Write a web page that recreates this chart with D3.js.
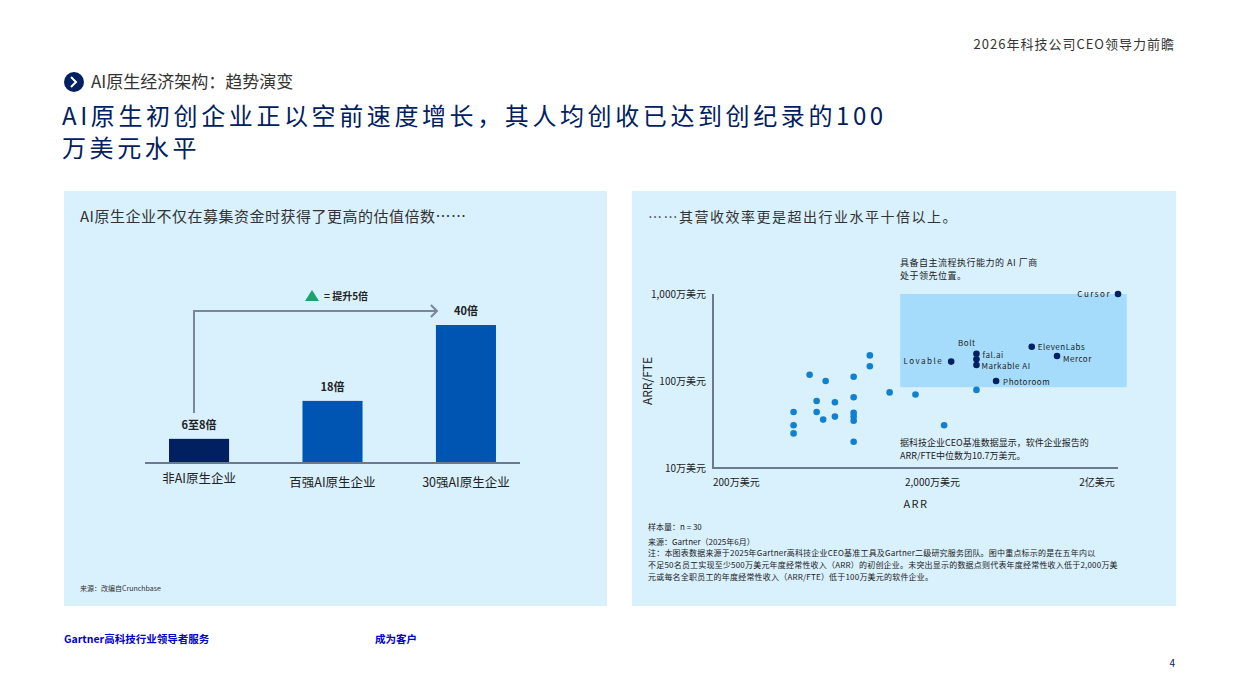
<!DOCTYPE html>
<html><head><meta charset="utf-8">
<script src="https://cdn.jsdelivr.net/npm/d3@7/dist/d3.min.js"></script>
<style>body{margin:0;background:#fff}svg{display:block;font-family:"Noto Sans CJK SC","Noto Sans",sans-serif}</style>
</head><body><svg id="c" width="1240" height="697"></svg>
<script>
const barCats=["非AI原生企业","百强AI原生企业","30强AI原生企业"];
const barVals=[7,18,40];
const barLabels=["6至8倍","18倍","40倍"];
const barColors=["#002060","#0055b3","#0055b3"];
const otherArr=[5.0e6,5.0e6,5.0e6,6.0e6,6.5e6,6.5e6,7.0e6,7.2e6,8.0e6,8.0e6,9.9e6,9.9e6,9.9e6,9.9e6,9.9e6,9.9e6,11.9e6,11.9e6,14.9e6,20e6,27.7e6,40e6];
const otherFte=[0.44e6,0.31e6,0.25e6,1.18e6,0.59e6,0.44e6,0.36e6,1.0e6,0.57e6,0.39e6,1.12e6,0.65e6,0.43e6,0.39e6,0.35e6,0.20e6,1.97e6,1.48e6,0.74e6,0.70e6,0.31e6,0.79e6];
const leadNames=["Lovable","Bolt","fal.ai","Markable AI","ElevenLabs","Mercor","Photoroom","Cursor"];
const leadArr=[30e6,40e6,40e6,40e6,75e6,100e6,50e6,200e6];
const leadFte=[1.67e6,2.06e6,1.78e6,1.53e6,2.48e6,1.94e6,1.0e6,10e6];
const xTicks=[2e6,2e7,2e8], xTickLabels=["200万美元","2,000万美元","2亿美元"];
const yTicks=[1e5,1e6,1e7], yTickLabels=["10万美元","100万美元","1,000万美元"];

const svg=d3.select("#c");
const T=(x,y,t,o={})=>{const e=svg.append("text").attr("x",x).attr("y",y).text(t)
 .attr("font-size",o.s||11).attr("fill",o.c||"#222").attr("text-anchor",o.a||"start")
 .attr("font-weight",o.w||"normal");if(o.ls)e.attr("letter-spacing",o.ls);return e;};
T(1175,49,"2026年科技公司CEO领导力前瞻",{s:13,a:"end",c:"#333",ls:1});
svg.append("circle").attr("cx",74).attr("cy",82).attr("r",10).attr("fill","#002060");
svg.append("path").attr("d","M71,77 L76,82 L71,87").attr("stroke","#fff").attr("stroke-width",2).attr("fill","none");
T(91,88,"AI原生经济架构：趋势演变",{s:17,c:"#333"});
T(62,125,"AI原生初创企业正以空前速度增长，其人均创收已达到创纪录的100",{s:24,c:"#002060",ls:3.6});
T(62,157,"万美元水平",{s:24,c:"#002060",ls:3.6});
svg.append("rect").attr("x",64).attr("y",191).attr("width",543).attr("height",415).attr("fill","#d9f0fd");
svg.append("rect").attr("x",632).attr("y",191).attr("width",544).attr("height",415).attr("fill","#d9f0fd");
T(80,222,"AI原生企业不仅在募集资金时获得了更高的估值倍数……",{s:15,c:"#333",ls:0.5});
T(648,222,"……其营收效率更是超出行业水平十倍以上。",{s:14,c:"#333",ls:1.5});

// bars
const xb=d3.scaleBand().domain(barCats).range([145,520]).paddingInner(0.55).paddingOuter(0.18);
const yb=d3.scaleLinear().domain([0,40]).range([463,325]);
svg.selectAll(".b").data(barCats).join("rect").attr("x",d=>xb(d)).attr("width",xb.bandwidth())
 .attr("y",(d,i)=>yb(barVals[i])).attr("height",(d,i)=>463-yb(barVals[i])).attr("fill",(d,i)=>barColors[i]);
svg.append("line").attr("x1",145).attr("x2",520).attr("y1",463).attr("y2",463).attr("stroke","#6b7a90").attr("stroke-width",2);
barCats.forEach((c,i)=>{const cx=xb(c)+xb.bandwidth()/2;
 T(cx,yb(barVals[i])-10,barLabels[i],{s:11,a:"middle",w:"bold"});
 T(cx,i==0?483:487,c,{s:12.5,a:"middle",c:"#222"});});
svg.append("path").attr("d",`M194,413 V311 H${xb(barCats[2])+1}`).attr("stroke","#7a869a").attr("stroke-width",2).attr("fill","none");
svg.append("path").attr("d",`M${xb(barCats[2])-5},305 L${xb(barCats[2])+1},311 L${xb(barCats[2])-5},317`).attr("stroke","#7a869a").attr("stroke-width",2).attr("fill","none");
svg.append("path").attr("d","M305,301 L312,290 L319,301 Z").attr("fill","#1aa36b");
T(324,300,"= 提升5倍",{s:10,w:"bold"});
T(80,591,"来源：改编自Crunchbase",{s:7,c:"#333"});

// scatter
const xs=d3.scaleLog().domain([2e6,2e8]).range([713,1118]);
const ys=d3.scaleLog().domain([1e5,1e7]).range([468,294]);
svg.append("rect").attr("x",xs(16.8e6)).attr("y",ys(1e7)).attr("width",xs(221e6)-xs(16.8e6)).attr("height",ys(0.85e6)-ys(1e7)).attr("fill","#a6dcfb");
svg.append("path").attr("d","M713,294 V468 H1118").attr("stroke","#6b7a90").attr("stroke-width",2).attr("fill","none");
yTicks.forEach((v,i)=>T(706,ys(v)+4,yTickLabels[i],{s:10,a:"end"}));
xTicks.forEach((v,i)=>T(i==0?xs(v):i==1?xs(v)+17:xs(v)-21,486,xTickLabels[i],{s:10,a:i==0?"start":"middle"}));
T(916,508,"ARR",{s:11,a:"middle",ls:1.5});
T(652,381,"ARR/FTE",{s:12}).attr("transform","rotate(-90,652,381)").attr("text-anchor","middle");
svg.selectAll(".o").data(otherArr).join("circle").attr("cx",d=>xs(d)).attr("cy",(d,i)=>ys(otherFte[i])).attr("r",3.3).attr("fill","#1080d0");
svg.selectAll(".l").data(leadArr).join("circle").attr("cx",d=>xs(d)).attr("cy",(d,i)=>ys(leadFte[i])).attr("r",3.3).attr("fill","#002060");
const lo=[[-8,2,"end"],[-1,-8,"end"],[6,-1,"start"],[5,4,"start"],[6,3,"start"],[6,6,"start"],[7,4,"start"],[-7,3,"end"]];
leadNames.forEach((n,i)=>{const o=lo[i];T(xs(leadArr[i])+o[0],ys(leadFte[i])+o[1],n,{s:8,a:o[2],ls:i==0||i==7?1.5:0.5});});
T(900,266,"具备自主流程执行能力的 AI 厂商",{s:9,ls:0.5});
T(900,279,"处于领先位置。",{s:9,ls:0.5});
T(900,446,"据科技企业CEO基准数据显示，软件企业报告的",{s:9});
T(900,459,"ARR/FTE中位数为10.7万美元。",{s:9});
T(648,530,"样本量：n = 30",{s:8});
T(648,545,"来源：Gartner（2025年6月）",{s:8});
T(648,556,"注：本图表数据来源于2025年Gartner高科技企业CEO基准工具及Gartner二级研究服务团队。图中重点标示的是在五年内以",{s:8,ls:0.2});
T(648,568,"不足50名员工实现至少500万美元年度经常性收入（ARR）的初创企业。未突出显示的数据点则代表年度经常性收入低于2,000万美",{s:8,ls:0.2});
T(648,580,"元或每名全职员工的年度经常性收入（ARR/FTE）低于100万美元的软件企业。",{s:8,ls:0.2});
T(64,643,"Gartner高科技行业领导者服务",{s:10.5,c:"#0000cc",w:"bold"});
T(375,643,"成为客户",{s:10.5,c:"#0000cc",w:"bold"});
T(1175,667,"4",{s:10,a:"end",c:"#002060"});
</script></body></html>
